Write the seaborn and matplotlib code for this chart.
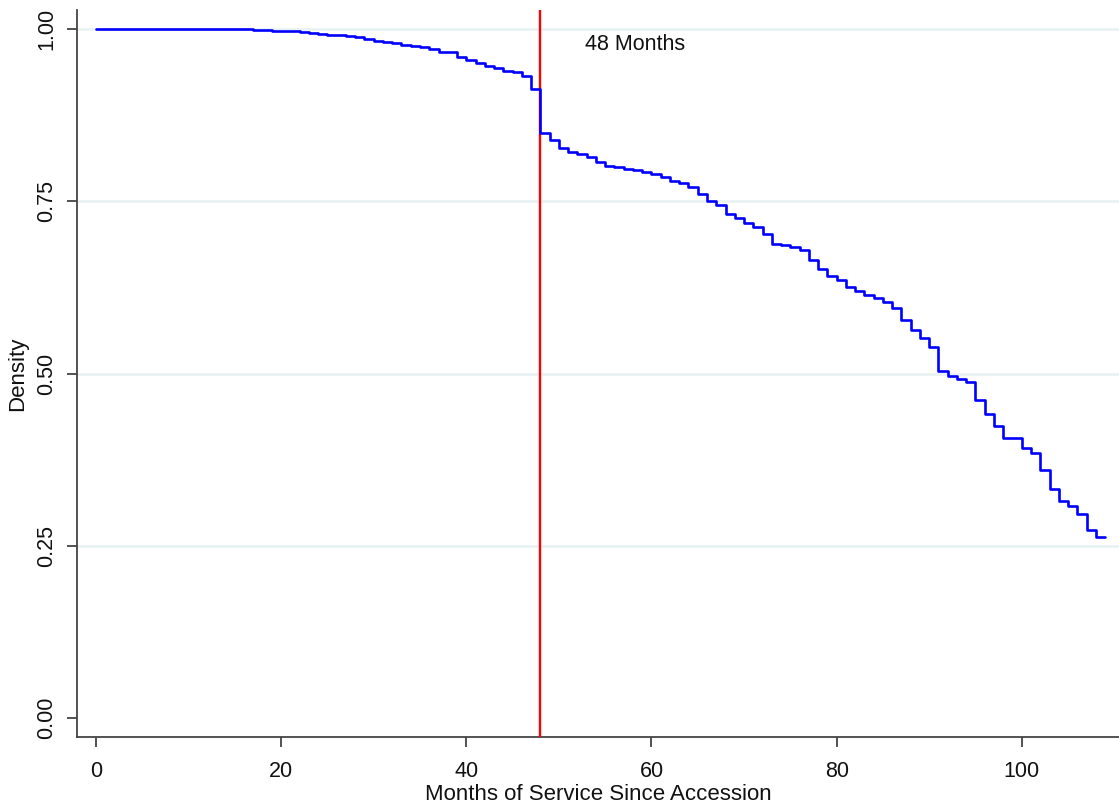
import matplotlib
matplotlib.use("Agg")
import matplotlib.pyplot as plt
import numpy as np
import pandas as pd
import seaborn as sns

# Kaplan-Meier style retention curve
months = list(range(0, 110))
survival = [
    1.000, 1.000, 1.000, 1.000, 1.000, 1.000, 1.000, 1.000, 1.000, 1.000,
    1.000, 1.000, 1.000, 1.000, 1.000, 0.9996, 0.9996, 0.9985, 0.9985, 0.9975,
    0.9975, 0.9966, 0.9952, 0.9938, 0.9927, 0.9917, 0.9909, 0.9894, 0.988, 0.986,
    0.983, 0.9815, 0.979, 0.977, 0.976, 0.974, 0.971, 0.967, 0.966, 0.960,
    0.955, 0.950, 0.947, 0.944, 0.939, 0.937, 0.932, 0.913, 0.849, 0.839,
    0.827, 0.821, 0.818, 0.814, 0.807, 0.801, 0.800, 0.797, 0.796, 0.793,
    0.789, 0.785, 0.780, 0.776, 0.771, 0.760, 0.750, 0.745, 0.731, 0.725,
    0.718, 0.712, 0.703, 0.688, 0.686, 0.684, 0.679, 0.665, 0.651, 0.642,
    0.635, 0.625, 0.620, 0.614, 0.609, 0.604, 0.595, 0.578, 0.563, 0.551,
    0.539, 0.503, 0.496, 0.492, 0.487, 0.462, 0.441, 0.424, 0.406, 0.406,
    0.392, 0.384, 0.360, 0.333, 0.315, 0.307, 0.296, 0.273, 0.262, 0.262,
]
cutoff_month = 48
cutoff_label = "48 Months"
x_ticks = [0, 20, 40, 60, 80, 100]
y_ticks = [0.00, 0.25, 0.50, 0.75, 1.00]

LINE_COLOR = "#0000ff"
CUT_COLOR  = "#ff0000"
GRID_COLOR = "#eaf2f3"
AXIS_COLOR = "#444444"

sns.set_theme(style="white")
plt.rcParams["font.family"] = ["Liberation Sans", "DejaVu Sans"]

df = pd.DataFrame({"month": months, "survival": survival})

fig = plt.figure(figsize=(11.19, 8.06), dpi=100)
ax = fig.add_axes([77 / 1119, 69 / 806, 1042 / 1119, 727 / 806])

for yv in y_ticks[1:]:
    ax.axhline(yv, color=GRID_COLOR, lw=2, zorder=0)

# red cutoff first, survival curve drawn on top of it
ax.axvline(cutoff_month, color=CUT_COLOR, lw=1.7, zorder=3)
sns.lineplot(data=df, x="month", y="survival", ax=ax, color=LINE_COLOR,
             lw=1.9, drawstyle="steps-post", zorder=4)
ax.text(52.8, 0.978, cutoff_label, fontsize=15.5, ha="left", va="center",
        color="#111111")

ax.set_xlim(-2.05, 110.5)
ax.set_ylim(-0.0276, 1.0276)
ax.set_xticks(x_ticks)
ax.set_yticks(y_ticks)
ax.set_yticklabels([f"{v:.2f}" for v in y_ticks], rotation=90, va="center")
ax.tick_params(axis="both", which="both", direction="out", length=7, width=1.3,
               color=AXIS_COLOR, labelsize=15.5, labelcolor="#111111", pad=7,
               bottom=True, left=True)
ax.tick_params(axis="x", pad=10)

ax.set_xlabel("Months of Service Since Accession", fontsize=16, labelpad=2,
              color="#111111")
ax.set_ylabel("Density", fontsize=16, labelpad=6, color="#111111")

sns.despine(ax=ax)
for side in ("left", "bottom"):
    ax.spines[side].set_color(AXIS_COLOR)
    ax.spines[side].set_linewidth(1.3)

fig.savefig("out.png", dpi=100)
plt.close(fig)
